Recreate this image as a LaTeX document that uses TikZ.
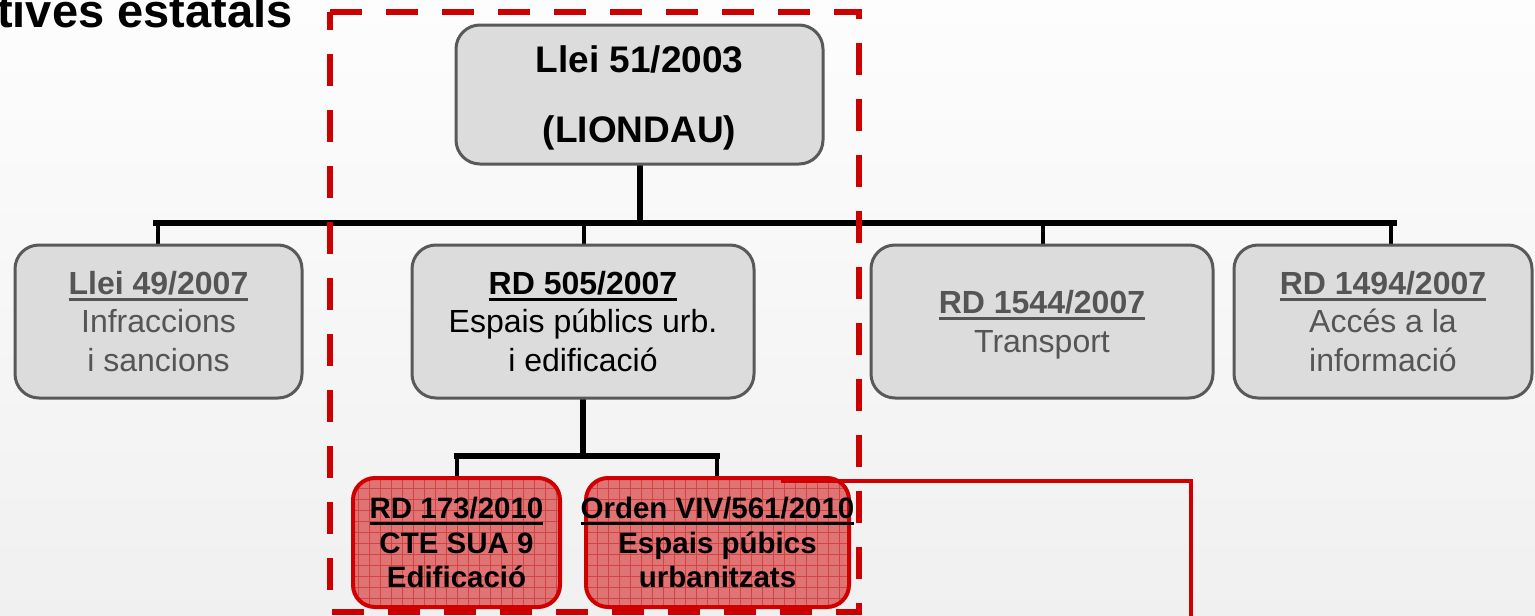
\documentclass[tikz,border=0pt]{standalone}
\usepackage{fontspec}
\setmainfont{Liberation Sans}
\usetikzlibrary{calc}
\definecolor{bgtop}{HTML}{FDFDFD}
\definecolor{bgbot}{HTML}{F0F0F0}
\definecolor{boxfill}{HTML}{DCDCDC}
\definecolor{boxline}{HTML}{595959}
\definecolor{graytext}{HTML}{555555}
\definecolor{dashred}{HTML}{CC0000}
\definecolor{redline}{HTML}{D00000}
\definecolor{redfill}{HTML}{E07474}
\definecolor{redgrid}{HTML}{D04444}
\newcommand{\ulx}[1]{\vtop{\hbox{#1}\kern3pt\hrule height 3pt}}
\tikzset{
  graybox/.style={draw=boxline, line width=3pt, fill=boxfill, rounded corners=24pt,
    inner sep=0pt, align=center, font=\fontsize{32}{38.5}\selectfont},
  redbox/.style={draw=redline, line width=4pt, fill=redfill, rounded corners=22pt,
    inner sep=0pt, align=center, font=\fontsize{29.5}{34.5}\selectfont\bfseries,
    minimum width=#1, minimum height=129pt,
    path picture={\draw[redgrid, line width=0.7pt]
      (path picture bounding box.south west) grid[step=11pt]
      (path picture bounding box.north east);}},
  topbox/.style={graybox, minimum width=367pt, minimum height=139pt,
    font=\fontsize{37}{70}\selectfont\bfseries, text depth=0pt},
  bus/.style={line width=6pt, black},
  drop/.style={line width=4pt, black},
}
\begin{document}
\begin{tikzpicture}[x=1pt, y=-1pt]
\useasboundingbox (0,0) rectangle (1535,616);
\shade[top color=bgtop, bottom color=bgbot] (0,0) rectangle (1535,616);

% title
\node[anchor=base west, inner sep=0pt, font=\fontsize{47}{50}\selectfont\bfseries] (title) at (-3,27) {tives estatals};

% connector coordinates
\coordinate (busL) at (156,223);
\coordinate (busR) at (1394,223);
\coordinate (busM) at (639.5,223);
\coordinate (d1) at (158,223);
\coordinate (d2) at (584,223);
\coordinate (d3) at (1043,223);
\coordinate (d4) at (1391,223);
\coordinate (sub) at (583,456);
\coordinate (s1) at (457,456);
\coordinate (s2) at (717,456);
\coordinate (topS) at (639.5,164);
\coordinate (r505S) at (583,398);

% connectors (drawn first, boxes cover their ends)
\draw[bus] (topS) -- (busM);
\draw[bus, line cap=rect] (busL) -- (busR);
\draw[drop] (d1) -- (158,246);
\draw[drop] (d2) -- (584,246);
\draw[drop] (d3) -- (1043,246);
\draw[drop] (d4) -- (1391,246);
\draw[bus] (r505S) -- (sub);
\draw[bus, line cap=rect] (s1) -- (s2);
\draw[drop] (s1) -- (457,479);
\draw[drop] (s2) -- (717,479);

% top node
\node[topbox] (top) at (639.5,94.5) {Llei 51/2003\\(LIONDAU)};

% second row
\node[graybox, minimum width=287pt, minimum height=153pt, text=graytext] (l49) at (158.5,321.5)
  {\bfseries\ulx{Llei 49/2007}\\Infraccions\\i sancions};
\node[graybox, minimum width=342pt, minimum height=153pt] (rd505) at (583,321.5)
  {\bfseries\ulx{RD 505/2007}\\Espais públics urb.\\i edificació};
\node[graybox, minimum width=342pt, minimum height=153pt, text=graytext, text depth=-9pt] (rd1544) at (1042,321.5)
  {\bfseries\ulx{RD 1544/2007}\\Transport};
\node[graybox, minimum width=298pt, minimum height=153pt, text=graytext] (rd1494) at (1383,321.5)
  {\bfseries\ulx{RD 1494/2007}\\Accés a la\\informació};

% third row
\node[redbox=207pt] (rd173) at (456.5,542.5) {\ulx{RD 173/2010}\\CTE SUA 9\\Edificació};
\node[redbox=263pt] (orden) at (717.5,542.5) {\makebox[240pt]{\ulx{Orden VIV/561/2010}}\\Espais púbics\\urbanitzats};

% red outline and dashed frame
\coordinate (r1) at (781,481);
\coordinate (r2) at (1191,481);
\coordinate (r3) at (1191,620);
\draw[redline, line width=4pt] (r1) -- (r2) -- (r3);
\draw[dashred, line width=6pt, dash pattern=on 32pt off 24pt, line join=miter] (330,12) -- (859,12) -- (859,612) -- (330,612) -- cycle;
\end{tikzpicture}
\end{document}
